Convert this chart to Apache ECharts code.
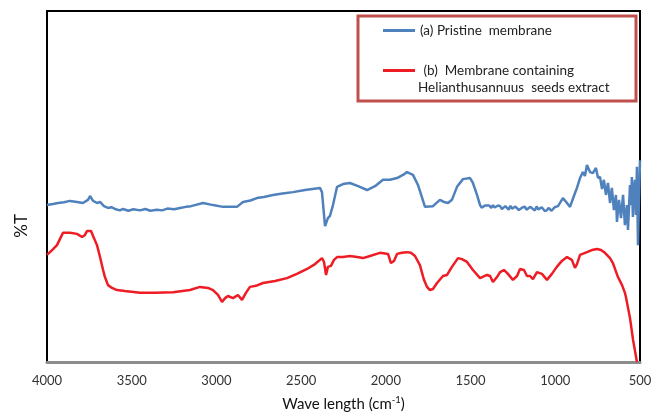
<!DOCTYPE html>
<html>
<head>
<meta charset="utf-8">
<script src="https://cdn.jsdelivr.net/npm/echarts@6/dist/echarts.min.js"></script>
<style>
  html, body { margin: 0; padding: 0; background: #fff; }
  #chart { width: 661px; height: 412px; }
</style>
</head>
<body>
<div id="chart"></div>
<script>
// wave number (cm-1) ticks
const waveTicks = [4000, 3500, 3000, 2500, 2000, 1500, 1000, 500];

// (a) pristine membrane: [wave number, %T]
const pristine = [
  [4000, 44.7], [3965, 45.0], [3935, 45.3], [3900, 45.5], [3864, 45.9], [3823, 45.6],
  [3788, 45.3], [3758, 46.2], [3746, 47.3], [3728, 45.9], [3705, 45.3], [3687, 45.6],
  [3664, 44.4], [3640, 43.9], [3620, 44.1], [3599, 43.6], [3570, 43.2], [3551, 43.6],
  [3520, 43.1], [3490, 43.5], [3451, 43.2], [3420, 43.6], [3390, 43.1], [3351, 43.4],
  [3320, 43.2], [3290, 43.7], [3250, 43.5], [3215, 43.9], [3180, 44.2], [3150, 44.4],
  [3127, 44.7], [3079, 45.3], [3020, 44.7], [2961, 44.2], [2879, 44.2], [2843, 45.6],
  [2800, 46.0], [2761, 46.7], [2720, 47.0], [2666, 47.6], [2610, 48.0], [2548, 48.4],
  [2477, 49.0], [2389, 49.6], [2377, 48.4], [2359, 38.7], [2342, 41.0], [2330, 41.6],
  [2312, 44.7], [2288, 49.9], [2253, 50.7], [2212, 51.0], [2164, 50.1], [2111, 49.0],
  [2064, 50.1], [2017, 51.9], [1976, 51.9], [1934, 52.4], [1899, 53.3], [1875, 54.1],
  [1840, 53.3], [1810, 50.4], [1769, 44.2], [1722, 44.4], [1681, 46.2], [1657, 45.6],
  [1633, 45.3], [1610, 46.2], [1580, 49.9], [1545, 52.1], [1503, 52.4], [1486, 51.0],
  [1462, 47.6], [1444, 44.7], [1435, 44.0], [1425, 43.9], [1413, 44.6], [1403, 44.2],
  [1390, 44.6], [1378, 43.9], [1368, 44.7], [1358, 44.0], [1350, 44.0], [1338, 44.6],
  [1326, 44.4], [1315, 43.6], [1305, 43.7], [1295, 44.4], [1285, 43.9], [1275, 43.4],
  [1265, 44.5], [1255, 43.7], [1245, 43.6], [1235, 44.3], [1226, 43.9], [1215, 43.3],
  [1205, 43.4], [1192, 44.1], [1179, 44.2], [1170, 43.4], [1160, 43.5], [1147, 44.2],
  [1132, 43.6], [1120, 43.2], [1110, 44.3], [1100, 43.5], [1090, 43.4], [1080, 44.1],
  [1073, 43.6], [1062, 43.0], [1050, 43.2], [1040, 43.9], [1030, 44.0], [1022, 43.1],
  [1014, 43.3], [1004, 44.1], [995, 43.9], [984, 44.4], [955, 46.7], [931, 45.3],
  [913, 44.2], [890, 47.3], [872, 49.6], [854, 52.4], [837, 54.1], [825, 53.0],
  [813, 56.1], [795, 54.1], [778, 53.8], [760, 55.3], [748, 52.5], [736, 52.7],
  [724, 49.3], [713, 51.9], [701, 47.6], [689, 51.0], [677, 45.3], [666, 49.6],
  [654, 43.3], [642, 47.6], [636, 39.9], [624, 46.2], [612, 41.0], [600, 47.6],
  [589, 39.0], [577, 44.7], [571, 37.6], [559, 50.4], [553, 44.7], [548, 52.7],
  [542, 41.3], [536, 49.0], [530, 51.9], [524, 41.9], [518, 55.6], [512, 33.3],
  [506, 46.2], [500, 57.5]
];

// (b) membrane with Helianthus annuus seeds extract: [wave number, %T]
const withExtract = [
  [4000, 30.5], [3970, 31.9], [3941, 33.3], [3906, 36.8], [3864, 36.8], [3823, 36.5],
  [3793, 35.6], [3776, 36.2], [3764, 37.3], [3740, 37.3], [3728, 35.9], [3705, 33.3],
  [3687, 29.9], [3669, 26.2], [3658, 24.2], [3640, 21.9], [3616, 21.1], [3587, 20.5],
  [3540, 20.2], [3451, 19.7], [3363, 19.7], [3256, 19.9], [3156, 20.5], [3097, 21.4],
  [3050, 21.1], [3020, 20.5], [2991, 19.1], [2967, 17.1], [2949, 18.2], [2932, 18.8],
  [2902, 18.2], [2873, 19.1], [2849, 17.7], [2826, 19.7], [2802, 21.4], [2767, 21.7],
  [2725, 22.5], [2654, 23.1], [2584, 23.9], [2525, 25.1], [2465, 26.5], [2418, 27.9],
  [2377, 29.6], [2365, 28.5], [2353, 24.8], [2342, 27.1], [2324, 27.4], [2306, 29.1],
  [2288, 29.9], [2253, 29.9], [2212, 30.2], [2170, 29.9], [2135, 29.6], [2094, 30.2],
  [2035, 31.1], [1987, 30.8], [1970, 28.2], [1952, 28.8], [1934, 30.8], [1905, 31.1],
  [1875, 31.3], [1852, 31.1], [1828, 30.2], [1799, 27.6], [1775, 23.4], [1757, 21.4],
  [1740, 20.5], [1722, 20.8], [1698, 22.5], [1663, 24.5], [1639, 24.8], [1610, 27.1],
  [1574, 29.6], [1551, 29.3], [1521, 28.5], [1486, 26.2], [1444, 23.9], [1403, 24.8],
  [1385, 24.5], [1368, 22.8], [1344, 24.2], [1326, 25.6], [1303, 26.2], [1285, 25.4],
  [1250, 23.4], [1226, 24.5], [1208, 26.5], [1185, 26.2], [1167, 24.5], [1149, 24.5],
  [1132, 23.6], [1108, 25.6], [1079, 25.1], [1049, 23.4], [1020, 25.1], [991, 27.1],
  [961, 28.8], [931, 29.9], [902, 29.1], [884, 26.8], [872, 27.9], [854, 30.5],
  [813, 31.3], [784, 31.9], [754, 32.2], [730, 31.9], [707, 31.1], [677, 29.6],
  [660, 28.2], [630, 24.2], [606, 21.9], [589, 19.7], [583, 18.5], [559, 12.5],
  [541, 6.3], [518, 0]
];

const nameA = "(a) Pristine  membrane";
const nameB = " (b)  Membrane containing";
const nameB2 = "Helianthusannuus  seeds extract";

const chart = echarts.init(document.getElementById("chart"));
const font = "Lato, 'Noto Sans', sans-serif";

chart.setOption({
  backgroundColor: "#fff",
  animation: false,
  grid: {
    left: 47,
    right: 21,
    top: 11,
    bottom: 50,
    outerBoundsMode: "none",
    containLabel: false,
    show: true,
    borderColor: "#000",
    borderWidth: 2
  },
  legend: {
    orient: "vertical",
    left: 383,
    top: 22,
    padding: 0,
    itemGap: 23,
    itemWidth: 32,
    itemHeight: 3,
    icon: "rect",
    textStyle: { fontFamily: font, fontSize: 13.5, color: "#222", lineHeight: 17 },
    data: [nameA, nameB],
    z: 10
  },
  graphic: [
    {
      type: "rect",
      shape: { x: 358, y: 16, width: 278, height: 85 },
      style: { fill: "#fff", stroke: "#c0504d", lineWidth: 3 },
      z: 5
    },
    {
      type: "text",
      x: 418,
      y: 88,
      style: { text: nameB2, font: "13.5px " + font, fill: "#222", verticalAlign: "middle" },
      z: 10
    },
    {
      type: "text",
      left: 13,
      top: 214,
      rotation: Math.PI / 2,
      style: { text: "%T", font: "17px " + font, fill: "#111" }
    }
  ],
  xAxis: {
    type: "value",
    inverse: true,
    min: 500,
    max: 4000,
    interval: 500,
    name: "Wave length (cm{sup|-1})",
    nameLocation: "middle",
    nameGap: 33,
    nameTextStyle: {
      fontFamily: font,
      fontSize: 15,
      color: "#111",
      rich: { sup: { fontFamily: font, fontSize: 9.5, color: "#111", verticalAlign: "top", padding: [0, 0, 8, 0] } }
    },
    axisLine: { lineStyle: { color: "#8c8c8c", width: 3 } },
    axisTick: { show: false },
    splitLine: { show: false },
    axisLabel: {
      fontFamily: font,
      fontSize: 13,
      color: "#333",
      margin: 12,
      formatter: v => String(v)
    }
  },
  yAxis: {
    type: "value",
    min: 0,
    max: 100,
    axisLine: { show: true, lineStyle: { color: "#000", width: 2 } },
    axisTick: { show: false },
    axisLabel: { show: false },
    splitLine: { show: false }
  },
  series: [
    {
      name: nameA,
      type: "line",
      data: pristine,
      symbol: "none",
      lineStyle: { color: "#4f81bd", width: 2.5 },
      itemStyle: { color: "#4f81bd" },
      z: 3
    },
    {
      name: nameB,
      type: "line",
      data: withExtract,
      symbol: "none",
      lineStyle: { color: "#ee1c24", width: 2.5 },
      itemStyle: { color: "#ee1c24" },
      z: 2
    }
  ]
});
</script>
</body>
</html>
